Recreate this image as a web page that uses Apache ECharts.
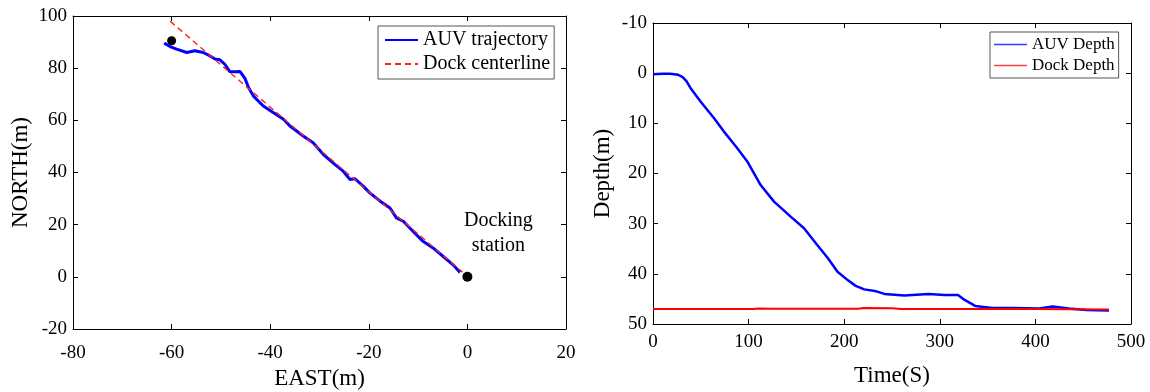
<!DOCTYPE html>
<html>
<head>
<meta charset="utf-8">
<script src="https://cdn.jsdelivr.net/npm/echarts@6/dist/echarts.min.js"></script>
<style>
html, body { margin: 0; padding: 0; background: #fff; }
#main { width: 1150px; height: 392px; }
</style>
</head>
<body>
<div id="main"></div>
<script>
// left panel: trajectory (EAST, NORTH)
var auvTrack = [
    [-61.5, 89.6], [-60.3, 88.3], [-59.0, 87.3], [-56.9, 86.0], [-55.3, 86.7],
    [-53.6, 86.0], [-52.2, 84.7], [-51.2, 83.5], [-50.2, 83.2], [-49.2, 81.5],
    [-48.2, 78.7], [-47.1, 78.6], [-46.1, 78.7], [-45.1, 76.0], [-44.4, 72.6],
    [-43.4, 69.3], [-41.4, 65.5], [-39.4, 63.0], [-37.3, 60.4], [-36.0, 57.8],
    [-33.3, 54.0], [-31.3, 51.4], [-29.2, 46.9], [-26.9, 43.1], [-25.2, 40.5],
    [-23.8, 37.3], [-22.8, 37.6], [-21.1, 34.7], [-19.8, 32.2], [-17.7, 29.0],
    [-15.7, 26.4], [-14.4, 22.6], [-13.0, 21.3], [-11.0, 17.4], [-9.0, 13.6],
    [-6.9, 11.0], [-4.9, 7.8], [-2.9, 4.6], [-1.5, 1.7]
];
var dockLine = [[-60.3, 98.0], [-1.0, 1.8]];
var startPoint = [[-60.0, 90.5]];
var dockPoint = [[0, 0]];

// right panel: depth vs time
var auvDepth = [
    [0, 0.2], [10, 0.1], [18, 0.1], [26, 0.3], [31, 0.8], [35, 1.6], [39, 2.9], [49.5, 5.6],
    [63.5, 8.9], [74, 11.6], [88, 14.9], [98.6, 17.6], [112.6, 22.3], [126.6, 25.6],
    [144, 28.6], [158, 30.9], [172, 34.3], [183, 36.9], [193, 39.6], [204, 41.3],
    [212, 42.4], [221, 43.1], [232, 43.4], [242, 44.0], [263, 44.3], [288, 44.0],
    [305, 44.2], [319, 44.2], [326, 45.2], [337, 46.4], [355, 46.8], [376, 46.8],
    [404, 46.9], [418, 46.5], [435, 46.9], [453, 47.2], [477, 47.3]
];
var dockDepth = [
    [0, 47.0], [105, 47.0], [110, 46.9], [125, 46.95], [215, 46.95], [220, 46.8],
    [250, 46.85], [260, 47.0], [400, 47.0], [477, 47.1]
];

var serif = 'Liberation Serif';
var tickFont = { color: '#000', fontSize: 19, fontFamily: serif };
var nameFont = { color: '#000', fontSize: 23, fontFamily: serif };
var lineAxis = { show: true, onZero: false, lineStyle: { color: '#000', width: 1 } };
var tickIn = { show: true, inside: true, length: 5, lineStyle: { color: '#000' } };

function mirrorX(grid, min, max, interval) {
    return {
        gridIndex: grid, type: 'value', position: 'top', min: min, max: max, interval: interval,
        axisLine: lineAxis, axisTick: tickIn, axisLabel: { show: false }, splitLine: { show: false }
    };
}
function mirrorY(grid, min, max, interval, inverse) {
    return {
        gridIndex: grid, type: 'value', position: 'right', min: min, max: max, interval: interval,
        inverse: inverse,
        axisLine: lineAxis, axisTick: tickIn, axisLabel: { show: false }, splitLine: { show: false }
    };
}

var myChart = echarts.init(document.getElementById('main'));
var option = {
    animation: false,
    backgroundColor: '#fff',
    grid: [
        { left: 73, top: 16, width: 493, height: 313, outerBoundsMode: 'none' },
        { left: 653, top: 23, width: 478, height: 301, outerBoundsMode: 'none' }
    ],
    legend: [
        {
            data: ['AUV trajectory', 'Dock centerline'],
            orient: 'vertical',
            left: 378, top: 26,
            padding: [4, 4, 5, 6],
            itemWidth: 33, itemHeight: 4, itemGap: 4,
            itemStyle: { opacity: 0 },
            borderColor: '#555', borderWidth: 1, backgroundColor: '#fff',
            textStyle: { color: '#000', fontSize: 20, fontFamily: serif, lineHeight: 20 }
        },
        {
            data: [
                { name: 'AUV Depth', icon: 'rect', itemStyle: { color: '#3a3aff', opacity: 1 } },
                { name: 'Dock Depth', icon: 'rect', itemStyle: { color: '#ff4040', opacity: 1 } }
            ],
            orient: 'vertical',
            left: 990, top: 32,
            padding: [3, 4, 3, 4],
            itemWidth: 33, itemHeight: 1.3, itemGap: 2,
            borderColor: '#555', borderWidth: 1, backgroundColor: '#fff',
            textStyle: { color: '#000', fontSize: 17, fontFamily: serif, lineHeight: 19 }
        }
    ],
    xAxis: [
        {
            gridIndex: 0, type: 'value', min: -80, max: 20, interval: 20,
            name: 'EAST(m)', nameLocation: 'middle', nameGap: 38, nameTextStyle: nameFont,
            axisLine: lineAxis, axisTick: tickIn, axisLabel: Object.assign({ margin: 15 }, tickFont),
            splitLine: { show: false }
        },
        mirrorX(0, -80, 20, 20),
        {
            gridIndex: 1, type: 'value', min: 0, max: 500, interval: 100,
            name: 'Time(S)', nameLocation: 'middle', nameGap: 40, nameTextStyle: nameFont,
            axisLine: lineAxis, axisTick: tickIn, axisLabel: Object.assign({ margin: 9 }, tickFont),
            splitLine: { show: false }
        },
        mirrorX(1, 0, 500, 100)
    ],
    yAxis: [
        {
            gridIndex: 0, type: 'value', min: -20, max: 100, interval: 20,
            name: 'NORTH(m)', nameLocation: 'middle', nameGap: 41, nameTextStyle: nameFont,
            axisLine: lineAxis, axisTick: tickIn, axisLabel: Object.assign({ margin: 6 }, tickFont),
            splitLine: { show: false }
        },
        mirrorY(0, -20, 100, 20, false),
        {
            gridIndex: 1, type: 'value', min: -10, max: 50, interval: 10, inverse: true,
            name: 'Depth(m)', nameLocation: 'middle', nameGap: 39, nameTextStyle: nameFont,
            axisLine: lineAxis, axisTick: tickIn, axisLabel: Object.assign({ margin: 6 }, tickFont),
            splitLine: { show: false }
        },
        mirrorY(1, -10, 50, 10, true)
    ],
    series: [
        {
            name: 'AUV trajectory', type: 'line', xAxisIndex: 0, yAxisIndex: 0,
            data: auvTrack, symbol: 'none',
            lineStyle: { color: '#0000ff', width: 3 },
            itemStyle: { color: '#0000ff' }
        },
        {
            name: 'Dock centerline', type: 'line', xAxisIndex: 0, yAxisIndex: 0,
            data: dockLine, symbol: 'none',
            lineStyle: { color: '#ff2020', width: 1.4, type: [6, 4] },
            itemStyle: { color: '#ff2020' }
        },
        {
            type: 'scatter', xAxisIndex: 0, yAxisIndex: 0,
            data: startPoint, symbolSize: 9, itemStyle: { color: '#000', opacity: 1 }
        },
        {
            type: 'scatter', xAxisIndex: 0, yAxisIndex: 0,
            data: dockPoint, symbolSize: 10, itemStyle: { color: '#000', opacity: 1 },
            label: {
                show: true, position: 'top', distance: 14, offset: [31, 0],
                formatter: 'Docking\nstation', align: 'center',
                color: '#000', fontSize: 20, fontFamily: serif, lineHeight: 25
            }
        },
        {
            name: 'AUV Depth', type: 'line', xAxisIndex: 2, yAxisIndex: 2,
            data: auvDepth, symbol: 'none',
            lineStyle: { color: '#0000ff', width: 2.5 },
            itemStyle: { color: '#0000ff' }
        },
        {
            name: 'Dock Depth', type: 'line', xAxisIndex: 2, yAxisIndex: 2,
            data: dockDepth, symbol: 'none',
            lineStyle: { color: '#ff0000', width: 2 },
            itemStyle: { color: '#ff0000' }
        }
    ]
};
myChart.setOption(option);
</script>
</body>
</html>
